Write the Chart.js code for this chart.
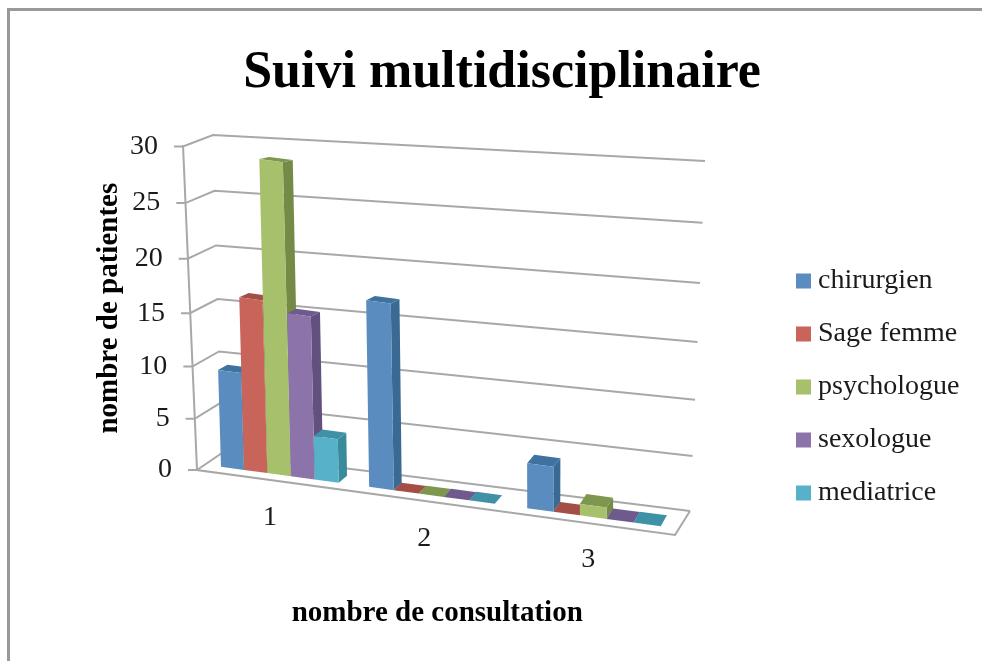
<!DOCTYPE html>
<html>
<head>
<meta charset="utf-8">
<title>Suivi multidisciplinaire</title>
<script src="https://cdn.jsdelivr.net/npm/chart.js@4"></script>
<style>
  html, body { margin: 0; padding: 0; background: #fff; }
  #wrap { position: relative; width: 982px; height: 661px; overflow: hidden; }
  #frame { position: absolute; left: 7px; top: 8px; right: 0; bottom: 0; border-left: 3px solid #999; border-top: 3px solid #999; }
  #graf { position: absolute; left: 0; top: 0; }
</style>
</head>
<body>
<div id="wrap">
  <div id="frame"></div>
  <canvas id="graf" width="982" height="661"></canvas>
</div>
<script>
const categories = ["1", "2", "3"];
const chirurgien = [9, 17, 4];
const sageFemme = [16, 0, 0];
const psychologue = [29, 0, 1];
const sexologue = [15, 0, 0];
const mediatrice = [4, 0, 0];
const yTicks = [0, 5, 10, 15, 20, 25, 30];

const series = [
    { label: "chirurgien", data: chirurgien, front: "#5b8cbf", side: "#3a6a94", top: "#3f729e" },
    { label: "Sage femme", data: sageFemme, front: "#c8645a", side: "#99473f", top: "#a34e46" },
    { label: "psychologue", data: psychologue, front: "#a6c06b", side: "#748a46", top: "#7f964e" },
    { label: "sexologue", data: sexologue, front: "#8c74ab", side: "#62507e", top: "#6e5a8c" },
    { label: "mediatrice", data: mediatrice, front: "#56b1c9", side: "#3b8a9c", top: "#3f92a6" }
];

const FONT = "'Liberation Serif', serif";
const GRID = "#a8a8a8";

// la perspective du dessin original: on passe des pixels du graphique a l'ecran
function project(chart, X, Y) {
    const area = chart.chartArea;
    const catW = area.width / categories.length;
    const d = X - (area.left + catW * 0.1);
    const sx0 = 221 + 0.929 * d + 0.000208 * d * d;
    const v = area.bottom - Y;
    const baseY = 467 + 0.135 * (sx0 - 222);
    const h = (10.85 + 0.0015 * (sx0 - 280)) / (area.height / 30);
    const lean = Math.max(0, 0.03 * (1 - (sx0 - 220) / 320));
    return { x: sx0 - lean * v * h, y: baseY - v * h };
}

function depth(x, y) {
    return {
        x: 8 + (470 - y) * 0.004 - (x - 395) * 0.006,
        y: -(2 + 0.0154 * (y - 157) + Math.max(0, x - 395) * 0.012)
    };
}

function poly(ctx, pts, color) {
    ctx.beginPath();
    pts.forEach((p, i) => i ? ctx.lineTo(p.x, p.y) : ctx.moveTo(p.x, p.y));
    ctx.closePath();
    ctx.fillStyle = color;
    ctx.fill();
}

function drawWalls(chart) {
    const ctx = chart.ctx;
    const yScale = chart.scales.y;
    ctx.save();
    ctx.strokeStyle = GRID;
    ctx.lineWidth = 2;
    ctx.font = "28px " + FONT;
    ctx.textAlign = "right";
    ctx.textBaseline = "middle";
    yScale.ticks.forEach(t => {
        const k = t.value / 30;
        // les graduations ne sont pas tout a fait regulieres sur l'original
        const bump = 20 * k * (1 - k);
        const py = yScale.getPixelForValue(t.value) + bump;
        const fx = 197 - 14 * k;
        ctx.beginPath();
        ctx.moveTo(fx - 9, py);
        ctx.lineTo(fx, py);
        ctx.lineTo(222 - 9 * k, 453 - 318 * k + bump);
        ctx.lineTo(690 + 15 * k, 511 - 350 * k + bump * 1.2);
        ctx.stroke();
        ctx.fillStyle = "#1a1a1a";
        ctx.fillText(String(t.value), fx - 25, py);
    });
    ctx.beginPath();
    ctx.moveTo(183, 145);
    ctx.lineTo(197, 470);
    ctx.lineTo(675, 535);
    ctx.lineTo(690, 511);
    ctx.stroke();
    ctx.restore();
}

function drawCategoryLabels(chart) {
    const ctx = chart.ctx;
    const xScale = chart.scales.x;
    ctx.save();
    ctx.font = "28px " + FONT;
    ctx.fillStyle = "#1a1a1a";
    ctx.textAlign = "center";
    ctx.textBaseline = "middle";
    categories.forEach((c, i) => {
        const p = project(chart, xScale.getPixelForTick(i), chart.chartArea.bottom);
        ctx.fillText(c, p.x - 9 + i * 2, p.y + 43);
    });
    ctx.restore();
}

const bars3d = {
    id: "bars3d",
    afterLayout(chart) {
        // la legende reste a droite, loin de la zone du graphique
        const lg = chart.legend;
        const w = lg.right - lg.left;
        lg.left = 778;
        lg.right = lg.left + w;
        lg.top = 242;
        lg.bottom = 640;
        chart.titleBlock.left += 26;
        chart.titleBlock.right += 26;
    },
    beforeDatasetsDraw(chart) {
        const ctx = chart.ctx;
        const bottom = chart.chartArea.bottom;
        drawWalls(chart);
        drawCategoryLabels(chart);
        series.forEach((s, i) => {
            chart.getDatasetMeta(i).data.forEach(bar => {
                const el = bar.getProps(["x", "y", "width"], true);
                const xl = el.x - el.width / 2;
                const xr = el.x + el.width / 2;
                const h = Math.max(bottom - el.y, 0.001);
                const A = project(chart, xl, bottom);
                const R = project(chart, xr, bottom);
                const T = project(chart, xl, bottom - h);
                const TR = { x: R.x + T.x - A.x, y: R.y + T.y - A.y };
                const d1 = depth(TR.x, TR.y);
                const d2 = depth(R.x, R.y);
                // cote droit et dessus
                poly(ctx, [R, TR, { x: TR.x + d1.x, y: TR.y + d1.y }, { x: R.x + d2.x, y: R.y + d2.y }], s.side);
                poly(ctx, [T, TR, { x: TR.x + d1.x, y: TR.y + d1.y }, { x: T.x + d1.x, y: T.y + d1.y }], s.top);
                if (bottom - el.y < 0.5) return;
                // face avant: dessinee par Chart.js avec une transformation
                const a = (R.x - A.x) / el.width;
                const b = (R.y - A.y) / el.width;
                const c = -(T.x - A.x) / h;
                const e = -(T.y - A.y) / h;
                ctx.save();
                ctx.transform(a, b, c, e, A.x - a * xl - c * bottom, A.y - b * xl - e * bottom);
                bar.draw(ctx);
                ctx.restore();
            });
        });
        return false;
    }
};

new Chart(document.getElementById("graf"), {
    type: "bar",
    data: {
        labels: categories,
        datasets: series.map(s => ({
            label: s.label,
            data: s.data,
            backgroundColor: s.front,
            borderWidth: 0,
            categoryPercentage: 0.8,
            barPercentage: 1
        }))
    },
    plugins: [bars3d],
    options: {
        responsive: false,
        animation: false,
        layout: { padding: { left: 92, right: 122, top: 42, bottom: 30 } },
        plugins: {
            tooltip: { enabled: false },
            title: {
                display: true,
                text: "Suivi multidisciplinaire",
                color: "#000",
                font: { family: FONT, size: 52, weight: "bold" },
                padding: { top: 0, bottom: 42 }
            },
            legend: {
                position: "right",
                align: "start",
                labels: {
                    color: "#1a1a1a",
                    font: { family: FONT, size: 28 },
                    boxWidth: 1,
                    boxHeight: 1,
                    padding: 25,
                    generateLabels: () => series.map((s, i) => ({
                        text: s.label,
                        fillStyle: s.front,
                        strokeStyle: s.front,
                        lineWidth: 14,
                        datasetIndex: i,
                        fontColor: "#1a1a1a"
                    }))
                }
            }
        },
        scales: {
            x: {
                grid: { display: false },
                border: { display: false },
                ticks: { display: false },
                title: {
                    display: true,
                    text: "nombre de consultation",
                    color: "#000",
                    font: { family: FONT, size: 29, weight: "bold" },
                    padding: 0
                },
                afterFit: s => { s.height = 161; }
            },
            y: {
                min: 0,
                max: 30,
                grid: { display: false },
                border: { display: false },
                ticks: { display: false, stepSize: 5 },
                afterBuildTicks: s => { s.ticks = yTicks.map(v => ({ value: v })); },
                title: {
                    display: true,
                    text: "nombre de patientes",
                    color: "#000",
                    font: { family: FONT, size: 29, weight: "bold" },
                    padding: 0
                },
                afterFit: s => { s.width = 114; }
            }
        }
    }
});
</script>
</body>
</html>
